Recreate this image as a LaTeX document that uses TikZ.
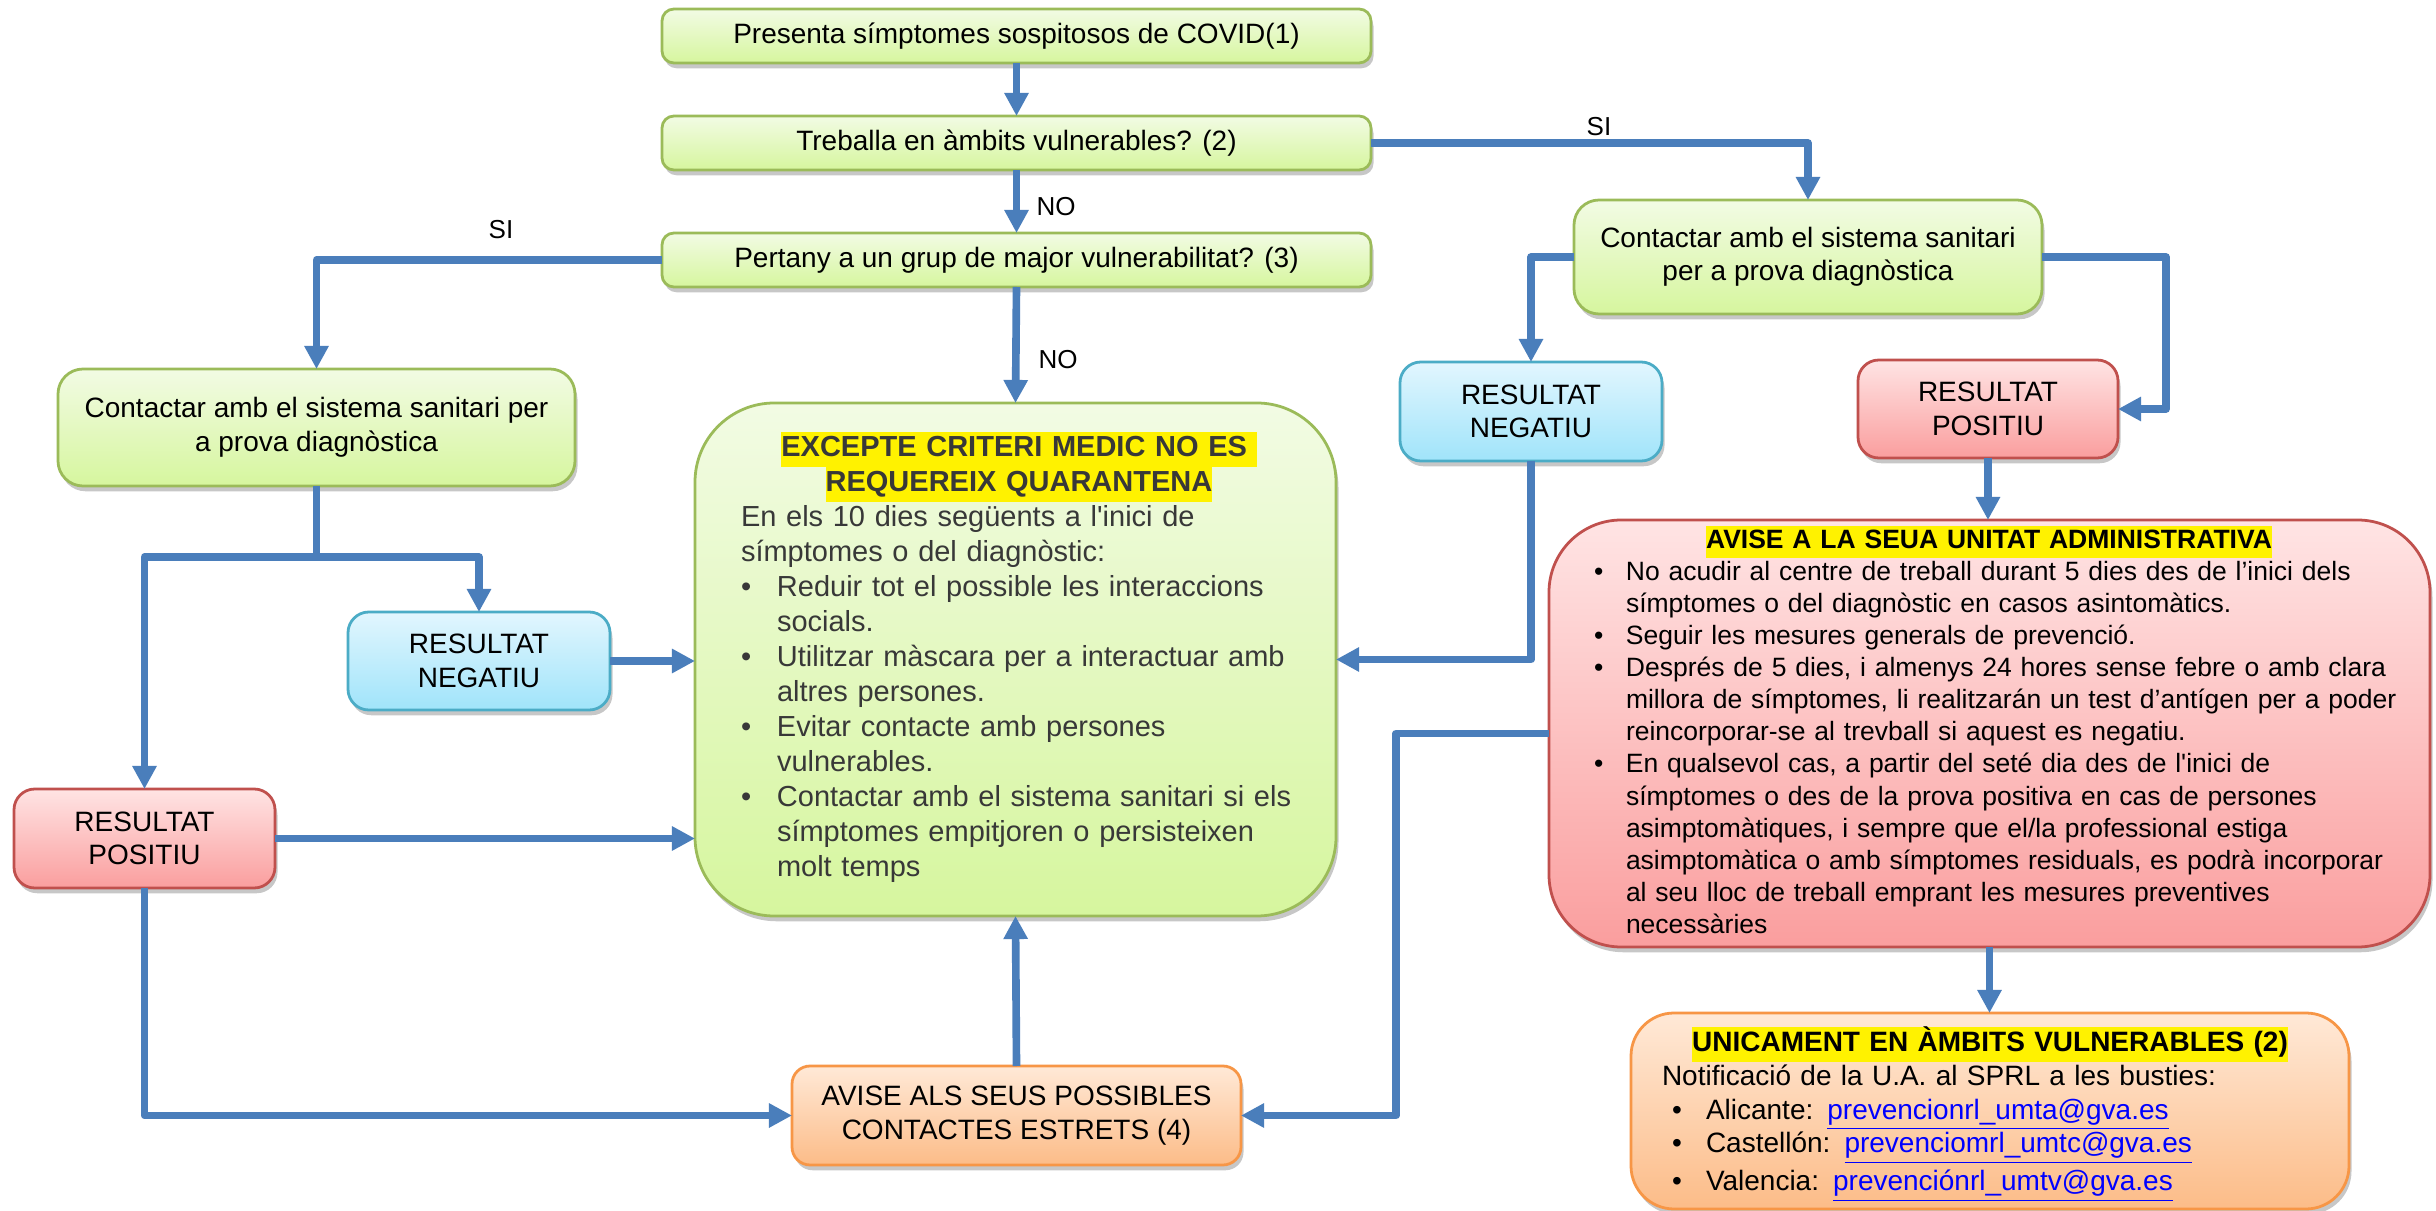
\documentclass[tikz,border=0pt]{standalone}
\usepackage{fontspec}
\setmainfont{Liberation Sans}
\usetikzlibrary{arrows.meta,shadows}
\newdimen\upx \upx=0.36pt
\definecolor{arrowblue}{RGB}{74,126,187}
\definecolor{gtop}{RGB}{242,251,228}
\definecolor{gbot}{RGB}{214,246,158}
\definecolor{gborder}{RGB}{155,187,89}
\definecolor{btop}{RGB}{226,246,254}
\definecolor{bbot}{RGB}{160,228,250}
\definecolor{bborder}{RGB}{75,172,198}
\definecolor{rtop}{RGB}{255,228,228}
\definecolor{rbot}{RGB}{250,158,158}
\definecolor{rborder}{RGB}{192,80,77}
\definecolor{otop}{RGB}{255,233,215}
\definecolor{obot}{RGB}{252,188,136}
\definecolor{oborder}{RGB}{247,150,70}
\definecolor{linkblue}{RGB}{0,0,255}
\newcommand\fsbox{\fontsize{10.08pt}{12.06pt}\selectfont}
\newcommand\fscen{\fontsize{10.44pt}{12.6pt}\selectfont}
\newcommand\fsav{\fontsize{9.54pt}{11.55pt}\selectfont}
\newcommand\fsun{\fontsize{10.08pt}{12.15pt}\selectfont}
\newcommand\fslab{\fontsize{9.36pt}{11pt}\selectfont}
\newcommand\hl[1]{{\setlength\fboxsep{0pt}\colorbox{yellow}{\strut #1}}}
\newcommand\lnk[1]{\textcolor{linkblue}{\underline{#1}}}
\tikzset{
  box/.style={rectangle, line width=1pt, outer sep=0pt, inner sep=0pt,
    align=center, font=\fsbox, text=black,
    drop shadow={shadow xshift=0.9pt, shadow yshift=-1.9pt, opacity=0.22, fill=black}},
  greenbox/.style={box, draw=gborder, top color=gtop, bottom color=gbot},
  bluebox/.style={box, draw=bborder, top color=btop, bottom color=bbot},
  redbox/.style={box, draw=rborder, top color=rtop, bottom color=rbot},
  orangebox/.style={box, draw=oborder, top color=otop, bottom color=obot},
  conn/.style={draw=arrowblue, line width=2.75pt, line join=round},
  arr/.style={conn, -{Triangle[length=8.3pt,width=8.3pt]}},
  lab/.style={inner sep=0pt, font=\fslab, text=black},
  txtblock/.style={inner sep=0pt, align=left},
}
\begin{document}
\begin{tikzpicture}[x=0.36pt, y=-0.36pt]
\useasboundingbox (0,0) rectangle (2436,1211);
\fill[white] (0,0) rectangle (2436,1211);

% ---- boxes ----
\node[greenbox, minimum width=709*\upx, minimum height=54*\upx, rounded corners=4.3pt] (b1) at (1016.5,36) {Presenta símptomes sospitosos de COVID(1)};
\node[greenbox, minimum width=709*\upx, minimum height=54*\upx, rounded corners=4.3pt] (b2) at (1016.5,143) {Treballa en àmbits vulnerables? (2)};
\node[greenbox, minimum width=709*\upx, minimum height=54*\upx, rounded corners=4.3pt] (b3) at (1016.5,260) {Pertany a un grup de major vulnerabilitat? (3)};

\node[greenbox, minimum width=517*\upx, minimum height=117*\upx, rounded corners=9pt] (lc) at (316.5,427.5) {Contactar amb el sistema sanitari per\\a prova diagnòstica};
\node[greenbox, minimum width=468*\upx, minimum height=114*\upx, rounded corners=9pt] (rc) at (1808,257) {Contactar amb el sistema sanitari\\per a prova diagnòstica};

\node[bluebox, minimum width=262*\upx, minimum height=98*\upx, rounded corners=7.5pt] (lneg) at (479,661) {RESULTAT\\NEGATIU};
\node[redbox, minimum width=261*\upx, minimum height=99*\upx, rounded corners=7.5pt] (lpos) at (144.5,838.5) {RESULTAT\\POSITIU};
\node[bluebox, minimum width=262*\upx, minimum height=99*\upx, rounded corners=7.5pt] (rneg) at (1531,411.5) {RESULTAT\\NEGATIU};
\node[redbox, minimum width=260*\upx, minimum height=98*\upx, rounded corners=7.5pt] (rpos) at (1988,409) {RESULTAT\\POSITIU};

\node[orangebox, minimum width=449*\upx, minimum height=99*\upx, rounded corners=6.5pt] (contacts) at (1016.5,1115.5) {AVISE ALS SEUS POSSIBLES\\CONTACTES ESTRETS (4)};

\node[greenbox, minimum width=641*\upx, minimum height=513*\upx, rounded corners=28.5pt] (center) at (1015.5,659.5) {};
\node[redbox, minimum width=881*\upx, minimum height=427*\upx, rounded corners=26pt] (avise) at (1989.5,733.5) {};
\node[orangebox, minimum width=718*\upx, minimum height=196*\upx, rounded corners=15.5pt] (unic) at (1990,1111) {};

% ---- block texts ----
\node[txtblock, text width=556*\upx, font=\fscen, text=black!78] (centertxt) at (1019,660) {%
\makebox[\linewidth][c]{\bfseries\hl{EXCEPTE CRITERI MEDIC NO ES\ }}\\
\makebox[\linewidth][c]{\bfseries\hl{REQUEREIX QUARANTENA}}\\
\mbox{En els 10 dies següents a l\textquotesingle inici de}\\
\mbox{símptomes o del diagnòstic:}\\
\mbox{\makebox[36\upx][l]{•}Reduir tot el possible les interaccions}\\
\mbox{\hspace*{36\upx}socials.}\\
\mbox{\makebox[36\upx][l]{•}Utilitzar màscara per a interactuar amb}\\
\mbox{\hspace*{36\upx}altres persones.}\\
\mbox{\makebox[36\upx][l]{•}Evitar contacte amb persones}\\
\mbox{\hspace*{36\upx}vulnerables.}\\
\mbox{\makebox[36\upx][l]{•}Contactar amb el sistema sanitari si els}\\
\mbox{\hspace*{36\upx}símptomes empitjoren o persisteixen}\\
\mbox{\hspace*{36\upx}molt temps\strut}};

\node[txtblock, text width=790*\upx, font=\fsav, text=black] (avisetxt) at (1989,734.5) {%
\makebox[\linewidth][c]{\bfseries\hl{AVISE A LA SEUA UNITAT ADMINISTRATIVA}}\\
\mbox{\makebox[32\upx][l]{•}No acudir al centre de treball durant 5 dies des de l’inici dels}\\
\mbox{\hspace*{32\upx}símptomes o del diagnòstic en casos asintomàtics.}\\
\mbox{\makebox[32\upx][l]{•}Seguir les mesures generals de prevenció.}\\
\mbox{\makebox[32\upx][l]{•}Després de 5 dies, i almenys 24 hores sense febre o amb clara}\\
\mbox{\hspace*{32\upx}millora de símptomes, li realitzarán un test d’antígen per a poder}\\
\mbox{\hspace*{32\upx}reincorporar-se al trevball si aquest es negatiu.}\\
\mbox{\makebox[32\upx][l]{•}En qualsevol cas, a partir del seté dia des de l\textquotesingle inici de}\\
\mbox{\hspace*{32\upx}símptomes o des de la prova positiva en cas de persones}\\
\mbox{\hspace*{32\upx}asimptomàtiques, i sempre que el/la professional estiga}\\
\mbox{\hspace*{32\upx}asimptomàtica o amb símptomes residuals, es podrà incorporar}\\
\mbox{\hspace*{32\upx}al seu lloc de treball emprant les mesures preventives}\\
\mbox{\hspace*{32\upx}necessàries\strut}};

\node[txtblock, text width=656*\upx, font=\fsun, text=black] (unictxt) at (1990,1114.5) {%
\makebox[\linewidth][c]{\bfseries\hl{UNICAMENT EN ÀMBITS VULNERABLES (2)}}\\
\mbox{Notificació de la U.A. al SPRL a les busties:}\\
\mbox{\hspace*{10\upx}\makebox[34\upx][l]{•}Alicante: \lnk{prevencionrl\_umta@gva.es}}\\
\mbox{\hspace*{10\upx}\makebox[34\upx][l]{•}Castellón: \lnk{prevenciomrl\_umtc@gva.es}}\\
\mbox{\hspace*{10\upx}\makebox[34\upx][l]{•}Valencia: \lnk{prevenciónrl\_umtv@gva.es}\strut}};

% ---- connectors ----
\draw[arr] (b1.south) -- (b2.north);
\draw[arr] (b2.south) -- (b3.north);
\draw[arr] (b2.east) -| (rc.north);
\draw[arr] (b3.west) -| (lc.north);
\draw[arr] (b3.south) -- (center.north);

\coordinate (split) at (316.5,557);
\draw[conn] (lc.south) -- (split);
\draw[arr] (split) -| (lpos.north);
\draw[arr] (split) -| (lneg.north);
\draw[arr] (lneg.east) -- (lneg.east -| center.west);
\draw[arr] (lpos.east) -- (lpos.east -| center.west);
\draw[arr] (lpos.south) |- (contacts.west);
\draw[arr] (contacts.north) -- (center.south);

\draw[arr] (rc.west) -| (rneg.north);
\coordinate (rcR) at (2166,257);
\draw[arr] (rc.east) -- (rcR) |- (rpos.east);
\draw[arr] (rneg.south) |- (center.east);
\draw[arr] (rpos.south) -- (rpos.south |- avise.north);
\coordinate (avL) at (1396,733.5);
\draw[arr] (avise.west) -- (avL) |- (contacts.east);
\draw[arr] (avise.south) -- (avise.south |- unic.north);

% ---- labels ----
\node[lab, anchor=west] (no1) at (1036,207) {NO};
\node[lab, anchor=west] (no2) at (1038,360) {NO};
\node[lab] (si1) at (1599,127) {SI};
\node[lab] (si2) at (501,230) {SI};
\end{tikzpicture}
\end{document}
